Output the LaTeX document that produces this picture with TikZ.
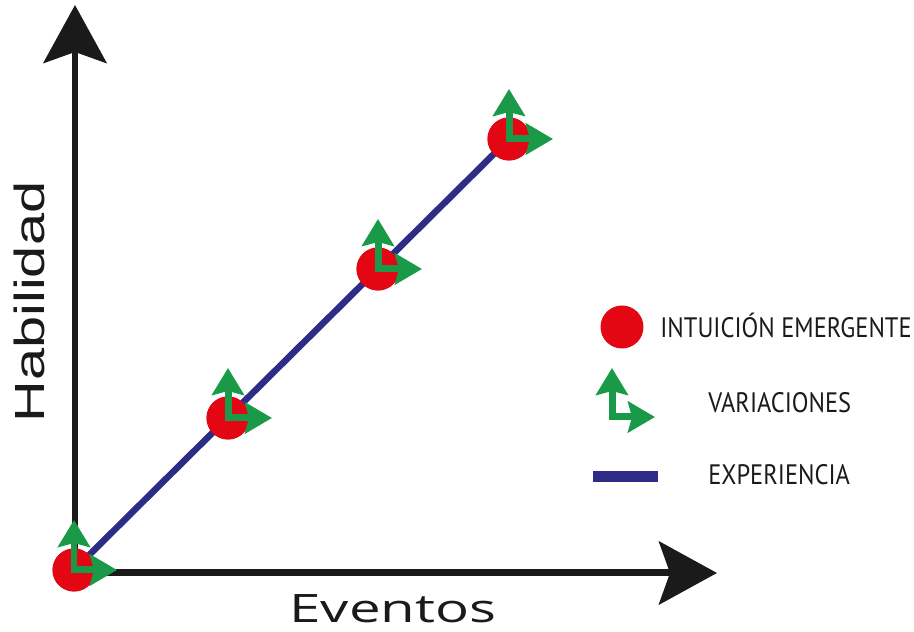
\documentclass[tikz,border=0pt]{standalone}
\usepackage{fontspec}
\setmainfont{PT Sans}
\newfontfamily\habfont{Liberation Sans}
\newfontfamily\evfont{Open Sans}
\usetikzlibrary{arrows.meta, positioning}

\definecolor{rojo}{HTML}{E30613}
\definecolor{verde}{HTML}{1A9A48}
\definecolor{azul}{HTML}{2E2C86}
\definecolor{negro}{HTML}{1A1A1A}

\begin{document}
\begin{tikzpicture}[
    x=0.02cm, y=0.02cm,
    intuicion/.style={circle, fill=rojo, minimum size=0.86cm, inner sep=0pt},
    variacion/.style={draw=verde, line width=0.14cm,
        arrows={Stealth[length=0.54cm, width=0.64cm, inset=0.08cm]-Stealth[length=0.54cm, width=0.62cm, inset=0.08cm]}},
    experiencia/.style={draw=azul, line width=0.13cm},
    eje/.style={draw=negro, line width=0.14cm, -{Stealth[length=1.16cm, width=1.26cm, inset=0.22cm]}},
    leyenda/.style={anchor=west, inner sep=0pt, font=\fontsize{16}{18}\selectfont, text=negro}
]
\useasboundingbox (0,0) rectangle (914,632);

\coordinate (origen) at (75,59);
\coordinate (ytop) at (75,627);
\coordinate (xend) at (717,59);
\draw[eje] ([yshift=-0.07cm]origen) -- (ytop);
\draw[eje] ([xshift=-0.07cm]origen) -- (xend);

\node[anchor=base, rotate=90, inner sep=0pt, text=negro] (hab) at (45,330)
    {\habfont\fontsize{24}{26}\selectfont\scalebox{1.37}[1]{Habilidad}};
\node[anchor=base, inner sep=0pt, text=negro] (ev) at (393,9)
    {\evfont\fontsize{22.3}{26}\selectfont\scalebox{1.44}[1]{Eventos}};

\node[intuicion] (m1) at (74,62) {};
\node[intuicion] (m2) at (228,214) {};
\node[intuicion] (m3) at (378,363) {};
\node[intuicion] (m4) at (509,493) {};

\draw[experiencia] (m1.center) -- (m4.center);
\node[intuicion] at (m1) {};
\node[intuicion] at (m2) {};
\node[intuicion] at (m3) {};
\node[intuicion] at (m4) {};

\coordinate[above=1cm of m1.center] (m1u);
\coordinate[right=0.86cm of m1.center] (m1r);
\coordinate[above=1cm of m2.center] (m2u);
\coordinate[right=0.88cm of m2.center] (m2r);
\coordinate[above=1cm of m3.center] (m3u);
\coordinate[right=0.88cm of m3.center] (m3r);
\coordinate[above=1cm of m4.center] (m4u);
\coordinate[right=0.88cm of m4.center] (m4r);

\draw[variacion] (m1u) |- (m1r);
\draw[variacion] (m2u) |- (m2r);
\draw[variacion] (m3u) |- (m3r);
\draw[variacion] (m4u) |- (m4r);

\node[intuicion] (li) at (622,305) {};
\coordinate (lv) at (612,215);
\coordinate[above=0.98cm of lv] (lvu);
\coordinate[right=0.86cm of lv] (lvr);
\draw[variacion] (lvu) |- (lvr);
\coordinate (le1) at (593,155);
\coordinate (le2) at (658,155);
\draw[draw=azul, line width=0.22cm] (le1) -- (le2);

\node[leyenda] (ti) at (660,307) {\scalebox{0.87}[1]{INTUICIÓN EMERGENTE}};
\node[leyenda] (tv) at (708,229) {\scalebox{0.87}[1]{VARIACIONES}};
\node[leyenda] (te) at (708,157) {\scalebox{0.87}[1]{EXPERIENCIA}};

\end{tikzpicture}
\end{document}
